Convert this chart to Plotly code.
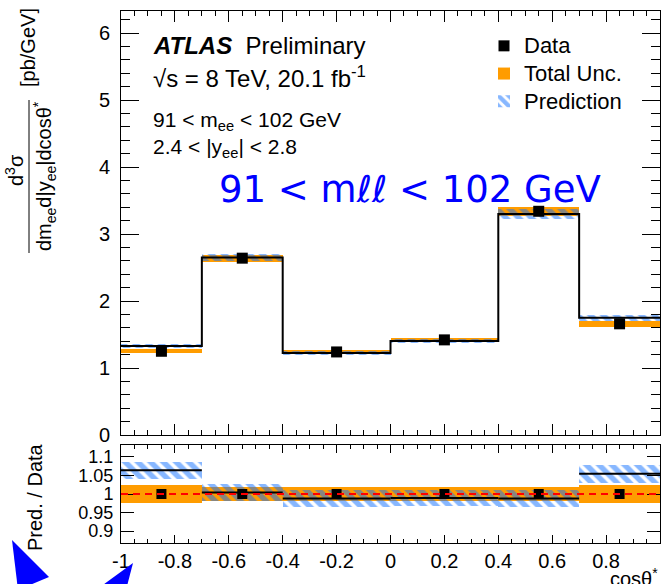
import plotly.graph_objects as go

# Binning in cos(theta*) and measured / predicted cross sections [pb/GeV]
bin_edges = [-1.0, -0.7, -0.4, 0.0, 0.4, 0.7, 1.0]
data_xsec = [1.25, 2.64, 1.24, 1.42, 3.34, 1.66]
pred_xsec = [1.33, 2.65, 1.225, 1.405, 3.30, 1.75]
# relative uncertainties
total_unc_rel = [0.025, 0.02, 0.02, 0.02, 0.02, 0.025]
pred_unc_rel = [0.023, 0.022, 0.022, 0.022, 0.022, 0.025]

x_ticks_lower = [-1, -0.8, -0.6, -0.4, -0.2, 0, 0.2, 0.4, 0.6, 0.8, 1]
ratio_ticks = [0.9, 0.95, 1.0, 1.05, 1.1]

centers = [(a + b) / 2 for a, b in zip(bin_edges[:-1], bin_edges[1:])]
widths = [b - a for a, b in zip(bin_edges[:-1], bin_edges[1:])]
ratio = [p / d for p, d in zip(pred_xsec, data_xsec)]

ORANGE = "#ff9c00"
HATCH = "#0f6fff"
FONT = "Liberation Sans, Arial, Helvetica, sans-serif"

W, H = 662, 584
ML, MR, MT, MB = 121, 2, 11, 41
PW, PH = W - ML - MR, H - MT - MB


def px(xp):
    return (xp - ML) / PW


def py(yp):
    return (H - MB - yp) / PH


main_dom = [py(435), 1.0]
low_dom = [0.0, py(445)]

hatch_pattern = dict(shape="\\", fgcolor=HATCH, bgcolor="rgba(0,0,0,0)",
                     size=9, solidity=0.6)


def legend_name(s):
    return f'<span style="font-size:22px">{s}</span>'


fig = go.Figure()

# ---- main panel ----
fig.add_trace(go.Bar(
    x=centers, width=widths,
    base=[d * (1 - u) for d, u in zip(data_xsec, total_unc_rel)],
    y=[2 * d * u for d, u in zip(data_xsec, total_unc_rel)],
    marker=dict(color=ORANGE, line=dict(width=0)),
    name=legend_name("Total Unc."), legendrank=2, xaxis="x", yaxis="y",
))
fig.add_trace(go.Bar(
    x=centers, width=widths,
    base=[p * (1 - u) for p, u in zip(pred_xsec, pred_unc_rel)],
    y=[2 * p * u for p, u in zip(pred_xsec, pred_unc_rel)],
    marker=dict(color="rgba(0,0,0,0)", line=dict(width=0), pattern=hatch_pattern),
    name=legend_name("Prediction"), legendrank=3, xaxis="x", yaxis="y",
))
fig.add_trace(go.Scatter(
    x=bin_edges, y=pred_xsec + [pred_xsec[-1]], mode="lines",
    line=dict(color="black", width=2, shape="hv"),
    showlegend=False, xaxis="x", yaxis="y",
))
fig.add_trace(go.Scatter(
    x=centers, y=data_xsec, mode="markers",
    marker=dict(symbol="square", size=11, color="black"),
    name=legend_name("Data"), legendrank=1, xaxis="x", yaxis="y",
))

# ---- ratio panel ----
fig.add_trace(go.Bar(
    x=centers, width=widths,
    base=[1 - u for u in total_unc_rel],
    y=[2 * u for u in total_unc_rel],
    marker=dict(color=ORANGE, line=dict(width=0)),
    showlegend=False, xaxis="x2", yaxis="y2",
))
fig.add_trace(go.Bar(
    x=centers, width=widths,
    base=[r - u for r, u in zip(ratio, pred_unc_rel)],
    y=[2 * u for u in pred_unc_rel],
    marker=dict(color="rgba(0,0,0,0)", line=dict(width=0), pattern=hatch_pattern),
    showlegend=False, xaxis="x2", yaxis="y2",
))
seg_x, seg_y = [], []
for a, b, r in zip(bin_edges[:-1], bin_edges[1:], ratio):
    seg_x += [a, b, None]
    seg_y += [r, r, None]
fig.add_trace(go.Scatter(
    x=seg_x, y=seg_y, mode="lines", line=dict(color="black", width=2),
    showlegend=False, xaxis="x2", yaxis="y2",
))
fig.add_trace(go.Scatter(
    x=centers, y=[1.0] * len(centers), mode="markers",
    marker=dict(symbol="square", size=10, color="black"),
    showlegend=False, xaxis="x2", yaxis="y2",
))

# dashed unity line on the ratio panel
fig.add_shape(type="line", xref="x2", yref="y2", x0=-1, x1=1, y0=1, y1=1,
              line=dict(color="red", width=2, dash="7px,5px"), layer="above")

axis_common = dict(showline=True, linecolor="black", linewidth=1, mirror="allticks",
                   ticks="inside", tickcolor="black", tickwidth=1, showgrid=False,
                   zeroline=False, tickfont=dict(family=FONT, size=20, color="black"))

fig.update_layout(
    width=W, height=H,
    margin=dict(l=ML, r=MR, t=MT, b=MB),
    paper_bgcolor="white", plot_bgcolor="white",
    barmode="overlay", bargap=0,
    font=dict(family=FONT, color="black"),
    xaxis=dict(axis_common, domain=[0, 1], anchor="y", range=[-1, 1],
               tickvals=x_ticks_lower, showticklabels=False, ticklen=11,
               minor=dict(ticks="inside", ticklen=5, dtick=0.05, tickcolor="black", showgrid=False)),
    yaxis=dict(axis_common, domain=main_dom, anchor="x", range=[0, 6.33],
               dtick=1, ticklen=18, ticklabelstandoff=6,
               minor=dict(ticks="inside", ticklen=9, dtick=0.2, tickcolor="black", showgrid=False)),
    xaxis2=dict(axis_common, domain=[0, 1], anchor="y2", range=[-1, 1],
                tickvals=x_ticks_lower, ticktext=[f"{v:g}" for v in x_ticks_lower],
                ticklen=8, ticklabelstandoff=0,
                minor=dict(ticks="inside", ticklen=4, dtick=0.05, tickcolor="black", showgrid=False)),
    yaxis2=dict(axis_common, domain=low_dom, anchor="x2", range=[0.868, 1.132],
                tickvals=ratio_ticks, ticktext=[f"{v:g}" for v in ratio_ticks],
                ticklen=13, ticklabelstandoff=3,
                tickfont=dict(family=FONT, size=18, color="black")),
    legend=dict(x=px(484), y=py(27), xanchor="left", yanchor="top",
                bgcolor="rgba(0,0,0,0)", font=dict(family=FONT, size=19, color="black"),
                traceorder="normal", itemwidth=30, tracegroupgap=0),
    showlegend=True,
)


def text(xp, yp, s, size, **kw):
    fig.add_annotation(xref="paper", yref="paper", x=px(xp), y=py(yp), text=s,
                       showarrow=False, font=dict(family=kw.pop("family", FONT), size=size,
                                                  color=kw.pop("color", "black")),
                       xanchor=kw.pop("xanchor", "left"), yanchor=kw.pop("yanchor", "middle"),
                       **kw)


text(151, 46, "<b><i>ATLAS</i></b>  Preliminary", 24)
text(151, 77, "√s = 8 TeV, 20.1 fb<sup>-1</sup>", 24)
text(151, 121, "91 < m<sub>ee</sub> < 102 GeV", 21)
text(151, 148, "2.4 < |y<sub>ee</sub>| < 2.8", 21)
text(410, 190, "91 < mℓℓ < 102 GeV", 37, family="DejaVu Sans", color="blue", xanchor="center")

# y-axis titles
text(14, 170, "d<sup>3</sup>σ", 20, textangle=-90, xanchor="center")
text(44, 176, "dm<sub>ee</sub>d|y<sub>ee</sub>|dcosθ<sup>*</sup>", 20, textangle=-90, xanchor="center")
text(28, 48, "[pb/GeV]", 20, textangle=-90, xanchor="center")
fig.add_shape(type="line", xref="paper", yref="paper", x0=px(29), x1=px(29),
              y0=py(100), y1=py(253), line=dict(color="black", width=1))
text(35, 497, "Pred. / Data", 20, textangle=-90, xanchor="center")
text(660, 577, "cosθ<sup>*</sup>", 20, xanchor="right")

# blue arrow heads in the lower-left corner
fig.add_shape(type="path", xref="paper", yref="paper",
              path=f"M {px(12)},{py(540)} L {px(49)},{py(577)} L {px(18)},{py(590)} Z",
              fillcolor="blue", line=dict(width=0))
fig.add_shape(type="path", xref="paper", yref="paper",
              path=f"M {px(133)},{py(563)} L {px(96)},{py(590)} L {px(126)},{py(590)} Z",
              fillcolor="blue", line=dict(width=0))

fig.write_html("out.html")
